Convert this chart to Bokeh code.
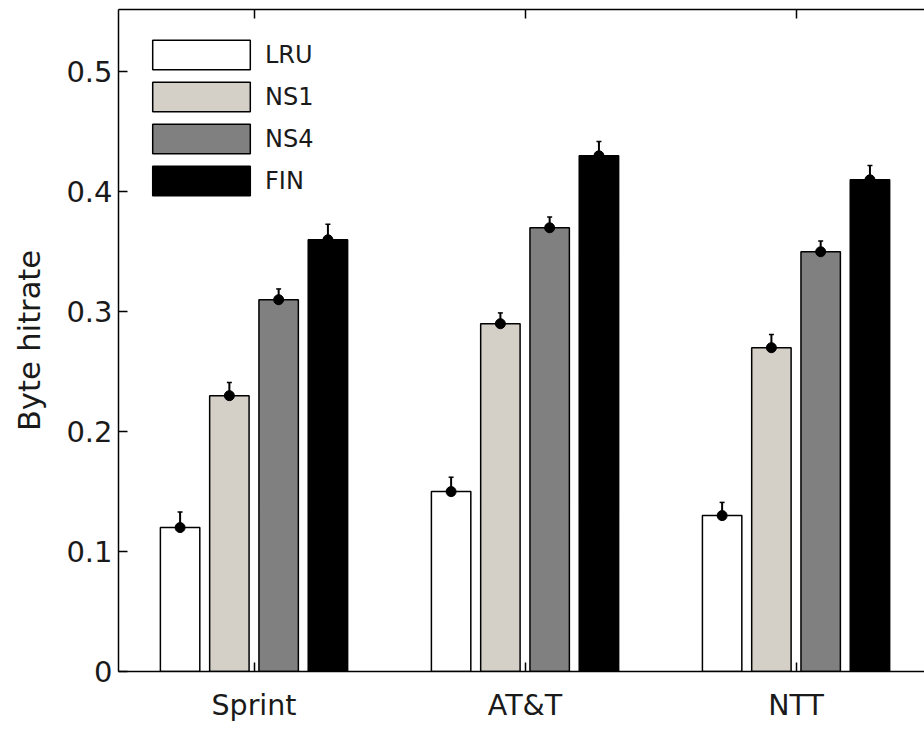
from bokeh.plotting import figure
from bokeh.models import (Range1d, FixedTicker, LinearAxis, Legend, LegendItem,
                          ColumnDataSource, Whisker, TeeHead)
from bokeh.embed import file_html
from bokeh.resources import INLINE

# ---- data ----
categories = ["Sprint", "AT&T", "NTT"]
series = ["LRU", "NS1", "NS4", "FIN"]
lru = [0.12, 0.15, 0.13]
ns1 = [0.23, 0.29, 0.27]
ns4 = [0.31, 0.37, 0.35]
fin = [0.36, 0.43, 0.41]
lru_err = [0.013, 0.012, 0.011]
ns1_err = [0.011, 0.009, 0.011]
ns4_err = [0.009, 0.009, 0.009]
fin_err = [0.013, 0.012, 0.012]
y_ticks = [0, 0.1, 0.2, 0.3, 0.4, 0.5]

values = [lru, ns1, ns4, fin]
errors = [lru_err, ns1_err, ns4_err, fin_err]
colors = ["#ffffff", "#d4d0c8", "#808080", "#000000"]

FONT = "DejaVu Sans"
TXT = "#1a1a1a"

p = figure(width=924, height=731, output_backend="svg", toolbar_location=None,
           x_range=Range1d(0.5, 3.474), y_range=Range1d(0, 0.552),
           min_border_left=118, min_border_right=0, min_border_top=9,
           min_border_bottom=60, x_axis_location=None, y_axis_location=None)
p.outline_line_color = None
p.grid.visible = False
p.background_fill_color = "white"
p.border_fill_color = "white"

# MATLAB grouped bar geometry
n = len(series)
group_width = min(0.8, n / (n + 1.5))
bar_w = group_width / n * 0.8
xpos = [1, 2, 3]

renderers = []
for i, (vals, errs, col) in enumerate(zip(values, errors, colors)):
    off = -group_width / 2 + (2 * i + 1) * group_width / (2 * n)
    xs = [x + off for x in xpos]
    src = ColumnDataSource(dict(x=xs, top=vals,
                                lo=[v - e for v, e in zip(vals, errs)],
                                hi=[v + e for v, e in zip(vals, errs)]))
    r = p.vbar(x="x", top="top", width=bar_w, bottom=0, source=src,
               fill_color=col, line_color="black", line_width=1.5)
    renderers.append(r)
    wk = Whisker(base="x", lower="lo", upper="hi", source=src,
                 line_color="black", line_width=2,
                 upper_head=TeeHead(size=5, line_color="black", line_width=1.5),
                 lower_head=TeeHead(size=5, line_color="black", line_width=1.5))
    p.add_layout(wk)
    p.scatter(x="x", y="top", source=src, size=10, color="black")

# axes
xtick = FixedTicker(ticks=xpos)
xb = LinearAxis(ticker=xtick)
xb.major_label_overrides = {x: c for x, c in zip(xpos, categories)}
p.add_layout(xb, "below")
xt = LinearAxis(ticker=xtick)
xt.major_label_overrides = {x: "" for x in xpos}
xt.major_label_standoff = 0
p.add_layout(xt, "above")

yl = LinearAxis(ticker=FixedTicker(ticks=y_ticks))
yl.major_label_overrides = {0: "0"}
yl.axis_label = "Byte hitrate"
p.add_layout(yl, "left")

for ax in (xb, xt, yl):
    ax.axis_line_color = "black"
    ax.axis_line_width = 1.5
    ax.major_tick_line_color = "black"
    ax.major_tick_line_width = 1.5
    ax.major_tick_in = 9
    ax.major_tick_out = 0
    ax.minor_tick_line_color = None
    ax.major_label_text_font = FONT
    ax.major_label_text_color = TXT
    ax.axis_label_text_font = FONT
    ax.axis_label_text_font_style = "normal"
    ax.axis_label_text_color = TXT
xb.major_label_text_font_size = "28.5px"
xb.major_label_standoff = 17
xt.major_label_text_font_size = "10px"
yl.major_label_text_font_size = "29px"
yl.major_label_standoff = 6
yl.axis_label_text_font_size = "30.5px"
yl.axis_label_standoff = 16

legend = Legend(items=[LegendItem(label=s, renderers=[r]) for s, r in zip(series, renderers)],
                location=(22, 472), margin=0, padding=0, spacing=5,
                glyph_width=122, glyph_height=37, label_standoff=3,
                label_text_font=FONT, label_text_font_size="24px",
                label_text_color=TXT, border_line_color=None,
                background_fill_alpha=0)
p.add_layout(legend)

open("out.html", "w").write(file_html(p, INLINE))
